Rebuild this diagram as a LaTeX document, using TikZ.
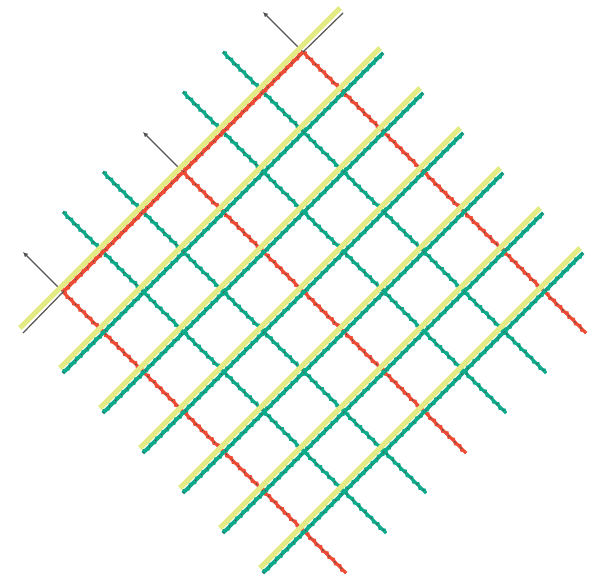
\documentclass[tikz,border=0pt]{standalone}
\usetikzlibrary{decorations.pathmorphing, arrows.meta}
\definecolor{railyellow}{HTML}{E4EA84}
\definecolor{railgreen}{HTML}{0BAA8A}
\definecolor{railred}{HTML}{EE4B35}
\definecolor{corecolor}{HTML}{555555}
\tikzset{
  plainline/.style={draw=corecolor, line width=1.2pt},
  tipline/.style={plainline, {Latex[length=5pt,width=5pt]}-},
  toothline/.style={decorate, decoration={zigzag, segment length=9pt, amplitude=1.6pt}, line width=2.2pt},
  baseline/.style={line width=3pt},
  thickbase/.style={line width=3.6pt},
  coreline/.style={draw=corecolor, line width=1pt, dash pattern=on 1.5pt off 7pt},
  sleeper/.style={draw=railyellow, line width=5pt},
}
\newcommand{\toothed}[4][baseline]{%
  \draw[#1, draw=#2] (#3) -- (#4);
  \draw[toothline, draw=#2] (#3) -- (#4);
  \draw[coreline] (#3) -- (#4);
}
\begin{document}
\begin{tikzpicture}[x=1pt, y=-1pt]
\useasboundingbox (0,0) rectangle (596,586);

% Anchor points of both line families
\foreach \i in {0,...,6} {
  \coordinate (a\i) at ({263-40*\i},{12+40*\i});
  \coordinate (b\i) at ({586-40*\i},{333+40*\i});
  \coordinate (s\i) at ({23+40*\i},{333+40*\i});
  \coordinate (e\i) at ({343+40*\i},{13+40*\i});
  \coordinate (u\i) at ({20+40*\i},{328+40*\i});
  \coordinate (v\i) at ({340+40*\i},{8+40*\i});
}
\coordinate (x0) at (303,52);
\coordinate (x3) at (183,172);
\coordinate (x6) at (63,292);

% Cross lines: green ones run the whole way
\foreach \i in {1,2,4,5} {
  \toothed{railgreen}{a\i}{b\i}
}
% Cross lines: thin lead-in, then red
\foreach \i in {0,3,6} {
  \draw[tipline] (a\i) -- (x\i);
  \toothed{railred}{x\i}{b\i}
}

% Long lines
\foreach \i in {1,...,6} {
  \toothed[thickbase]{railgreen}{s\i}{e\i}
}
\draw[plainline] (s0) -- (x6);
\toothed[thickbase]{railred}{x6}{x0}
\draw[plainline] (x0) -- (e0);

% Yellow bars on top
\foreach \i in {0,...,6} {
  \draw[sleeper] (u\i) -- (v\i);
}

\end{tikzpicture}
\end{document}
